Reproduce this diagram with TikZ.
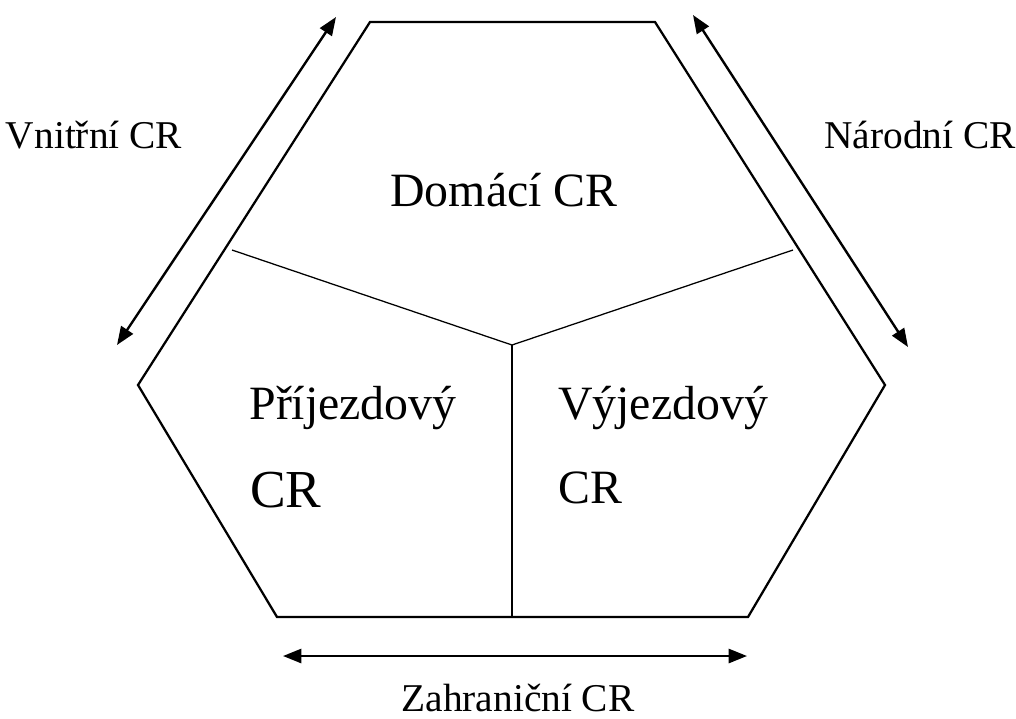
\documentclass[tikz,border=0pt]{standalone}
\usepackage{fontspec}
\setmainfont{Liberation Serif}
\usetikzlibrary{arrows.meta}
\tikzset{
    side/.style={line width=1.6pt},
    cut/.style={line width=0.9pt},
    dir/.style={line width=1.7pt,{Triangle[length=13pt,width=10pt]}-{Triangle[length=13pt,width=10pt]}},
    outer/.style={font=\fontsize{28}{30}\selectfont},
    inner/.style={font=\fontsize{34}{38}\selectfont}
}
\begin{document}
\begin{tikzpicture}[x=0.025cm,y=-0.025cm]
        \useasboundingbox (0,0) rectangle (1016,718);
        \coordinate (TL) at (370,22);
        \coordinate (TR) at (655,22);
        \coordinate (R) at (885,385);
        \coordinate (BR) at (748,617);
        \coordinate (BL) at (277,617);
        \coordinate (L) at (138,385);
        \coordinate (M) at (512,345);
        \coordinate (ML) at (232,250);
        \coordinate (MR) at (793,250);
        \coordinate (MB) at (512,617);
        \draw[side,line join=miter] (TL) -- (TR) -- (R) -- (BR) -- (BL) -- (L) -- cycle;
        \path [cut](ML) edge (M);
        \path [cut](MR) edge (M);
        \path [cut](M) edge (MB);
        \coordinate (A1) at (336,17);
        \coordinate (A2) at (117,345);
        \coordinate (B1) at (693,15);
        \coordinate (B2) at (908,347);
        \coordinate (C1) at (283,656);
        \coordinate (C2) at (747,656);
        \path [dir](A1) edge (A2);
        \path [dir](B1) edge (B2);
        \path [dir](C1) edge (C2);
        \node[outer] (vnitrni) at (94,135) {Vnitřní CR};
        \node[outer] (narodni) at (920,135) {Národní CR};
        \node[outer] (zahranicni) at (518,698) {Zahraniční CR};
        \node[inner] (domaci) at (504,190) {Domácí CR};
        \node[inner] (prijezd) at (353,408) {Příjezdový};
        \node[inner,font=\fontsize{38}{42}\selectfont,anchor=west,inner sep=0pt] (prijezdcr) at (250,490) {CR};
        \node[inner] (vyjezd) at (663,408) {Výjezdový};
        \node[inner,anchor=west,inner sep=0pt] (vyjezdcr) at (558,488) {CR};
    \end{tikzpicture}
\end{document}
